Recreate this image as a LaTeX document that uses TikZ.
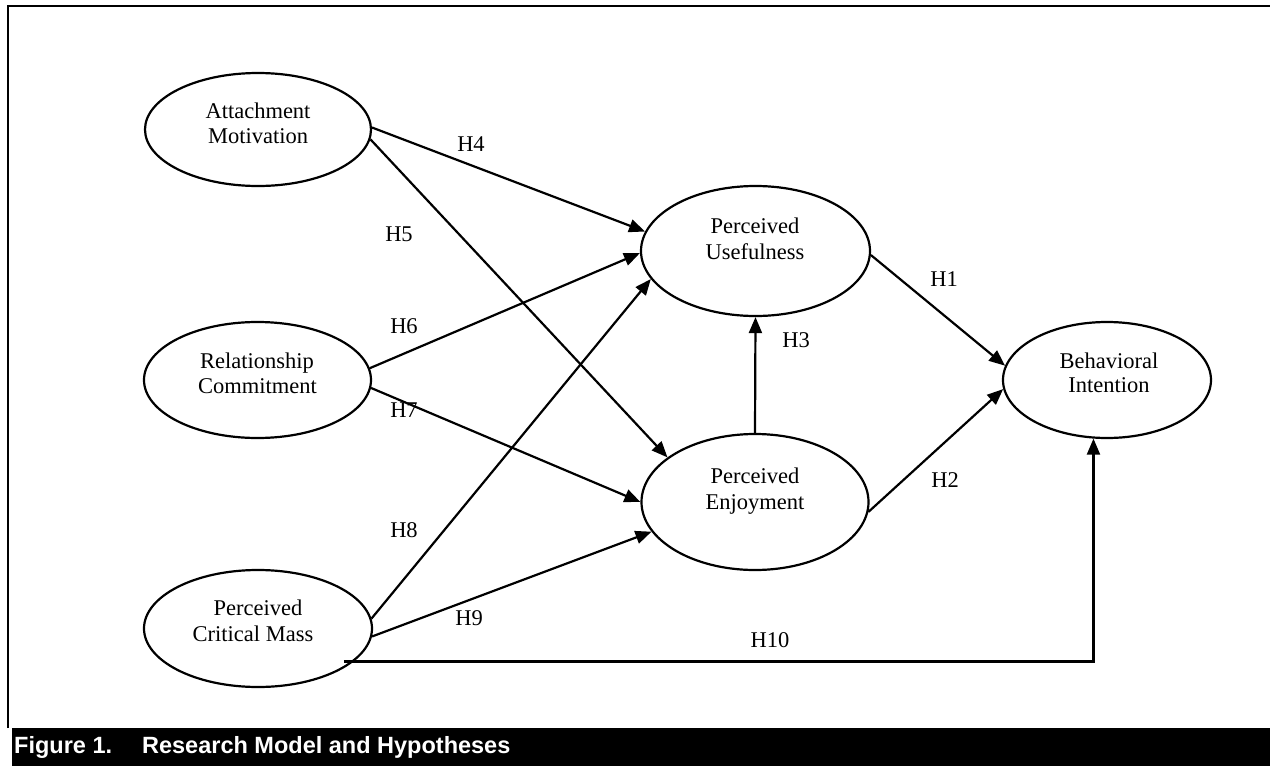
\documentclass[tikz,border=0pt]{standalone}
\usepackage{fontspec}
\setmainfont{Liberation Serif}
\newfontfamily\capfont{Liberation Sans}
\usetikzlibrary{shapes.geometric,arrows.meta}
\begin{document}
\begin{tikzpicture}[x=1pt,y=-1pt,
  ell/.style={draw,ellipse,line width=2.2pt,inner sep=0pt},
  txt/.style={anchor=base,inner sep=0pt,font=\fontsize{22.5}{26}\selectfont},
  hlab/.style={inner sep=0pt,font=\fontsize{22.5}{26}\selectfont},
  arr/.style={line width=2.2pt,-{Triangle[length=16pt,width=13pt]}},
]
\useasboundingbox (0,0) rectangle (1270,766);
% frame
\draw[line width=2.2pt] (8,728) -- (8,6) -- (1270,6);
\fill (12,728) rectangle (1270,766);
\node[anchor=base west,inner sep=0pt,text=white,font=\capfont\bfseries\fontsize{23.5}{28}\selectfont] (cap) at (14,753) {Figure 1.\hspace{30pt}Research Model and Hypotheses};
% ellipses
\node[ell,minimum width=226pt,minimum height=113pt] (am) at (258,129.5) {};
\node[ell,minimum width=227pt,minimum height=116pt] (rc) at (257.5,380) {};
\node[ell,minimum width=228pt,minimum height=117pt] (cm) at (258,628.5) {};
\node[ell,minimum width=229pt,minimum height=130pt] (pu) at (755.5,251) {};
\node[ell,minimum width=227pt,minimum height=136pt] (pe) at (755,502) {};
\node[ell,minimum width=208pt,minimum height=116pt] (bi) at (1107,380) {};
% texts
\node[txt] (amt1) at (258,118) {Attachment};
\node[txt] (amt2) at (258,143) {Motivation};
\node[txt] (rct1) at (257,368) {Relationship};
\node[txt] (rct2) at (257.5,393) {Commitment};
\node[txt] (cmt1) at (258,615) {Perceived};
\node[txt] (cmt2) at (253,641) {Critical Mass};
\node[txt] (put1) at (755,233) {Perceived};
\node[txt] (put2) at (755,259) {Usefulness};
\node[txt] (pet1) at (755,483) {Perceived};
\node[txt] (pet2) at (755,509) {Enjoyment};
\node[txt] (bit1) at (1109,368) {Behavioral};
\node[txt] (bit2) at (1109,392) {Intention};
% connectors
\draw[arr] (am.1) -- (pu.170.5);
\draw[arr] (am.-5.4) -- (pe.153.4);
\draw[arr] (rc.6.6) -- (pu.181.5);
\draw[arr] (rc.-4.6) -- (pe.180);
\draw[arr] (cm.5.9) -- (pu.195.7);
\draw[arr] (cm.-4.3) -- (pe.196.9);
\draw[arr] (pe.north) -- (pu.south);
\draw[arr] (pu.-2) -- (bi.172.9);
\draw[arr] (pe.-5.5) -- (bi.185.4);
\draw[arr] ([xshift=-10pt]cm.-19) -| (bi.-103.7);
% labels
\node[hlab] (h1) at (944,279) {H1};
\node[hlab] (h2) at (945,480) {H2};
\node[hlab] (h3) at (796,340) {H3};
\node[hlab] (h4) at (471,144) {H4};
\node[hlab] (h5) at (399,234) {H5};
\node[hlab] (h6) at (404,326) {H6};
\node[hlab] (h7) at (404,410) {H7};
\node[hlab] (h8) at (404,530) {H8};
\node[hlab] (h9) at (469,618) {H9};
\node[hlab] (h10) at (770,640) {H10};
\end{tikzpicture}
\end{document}
